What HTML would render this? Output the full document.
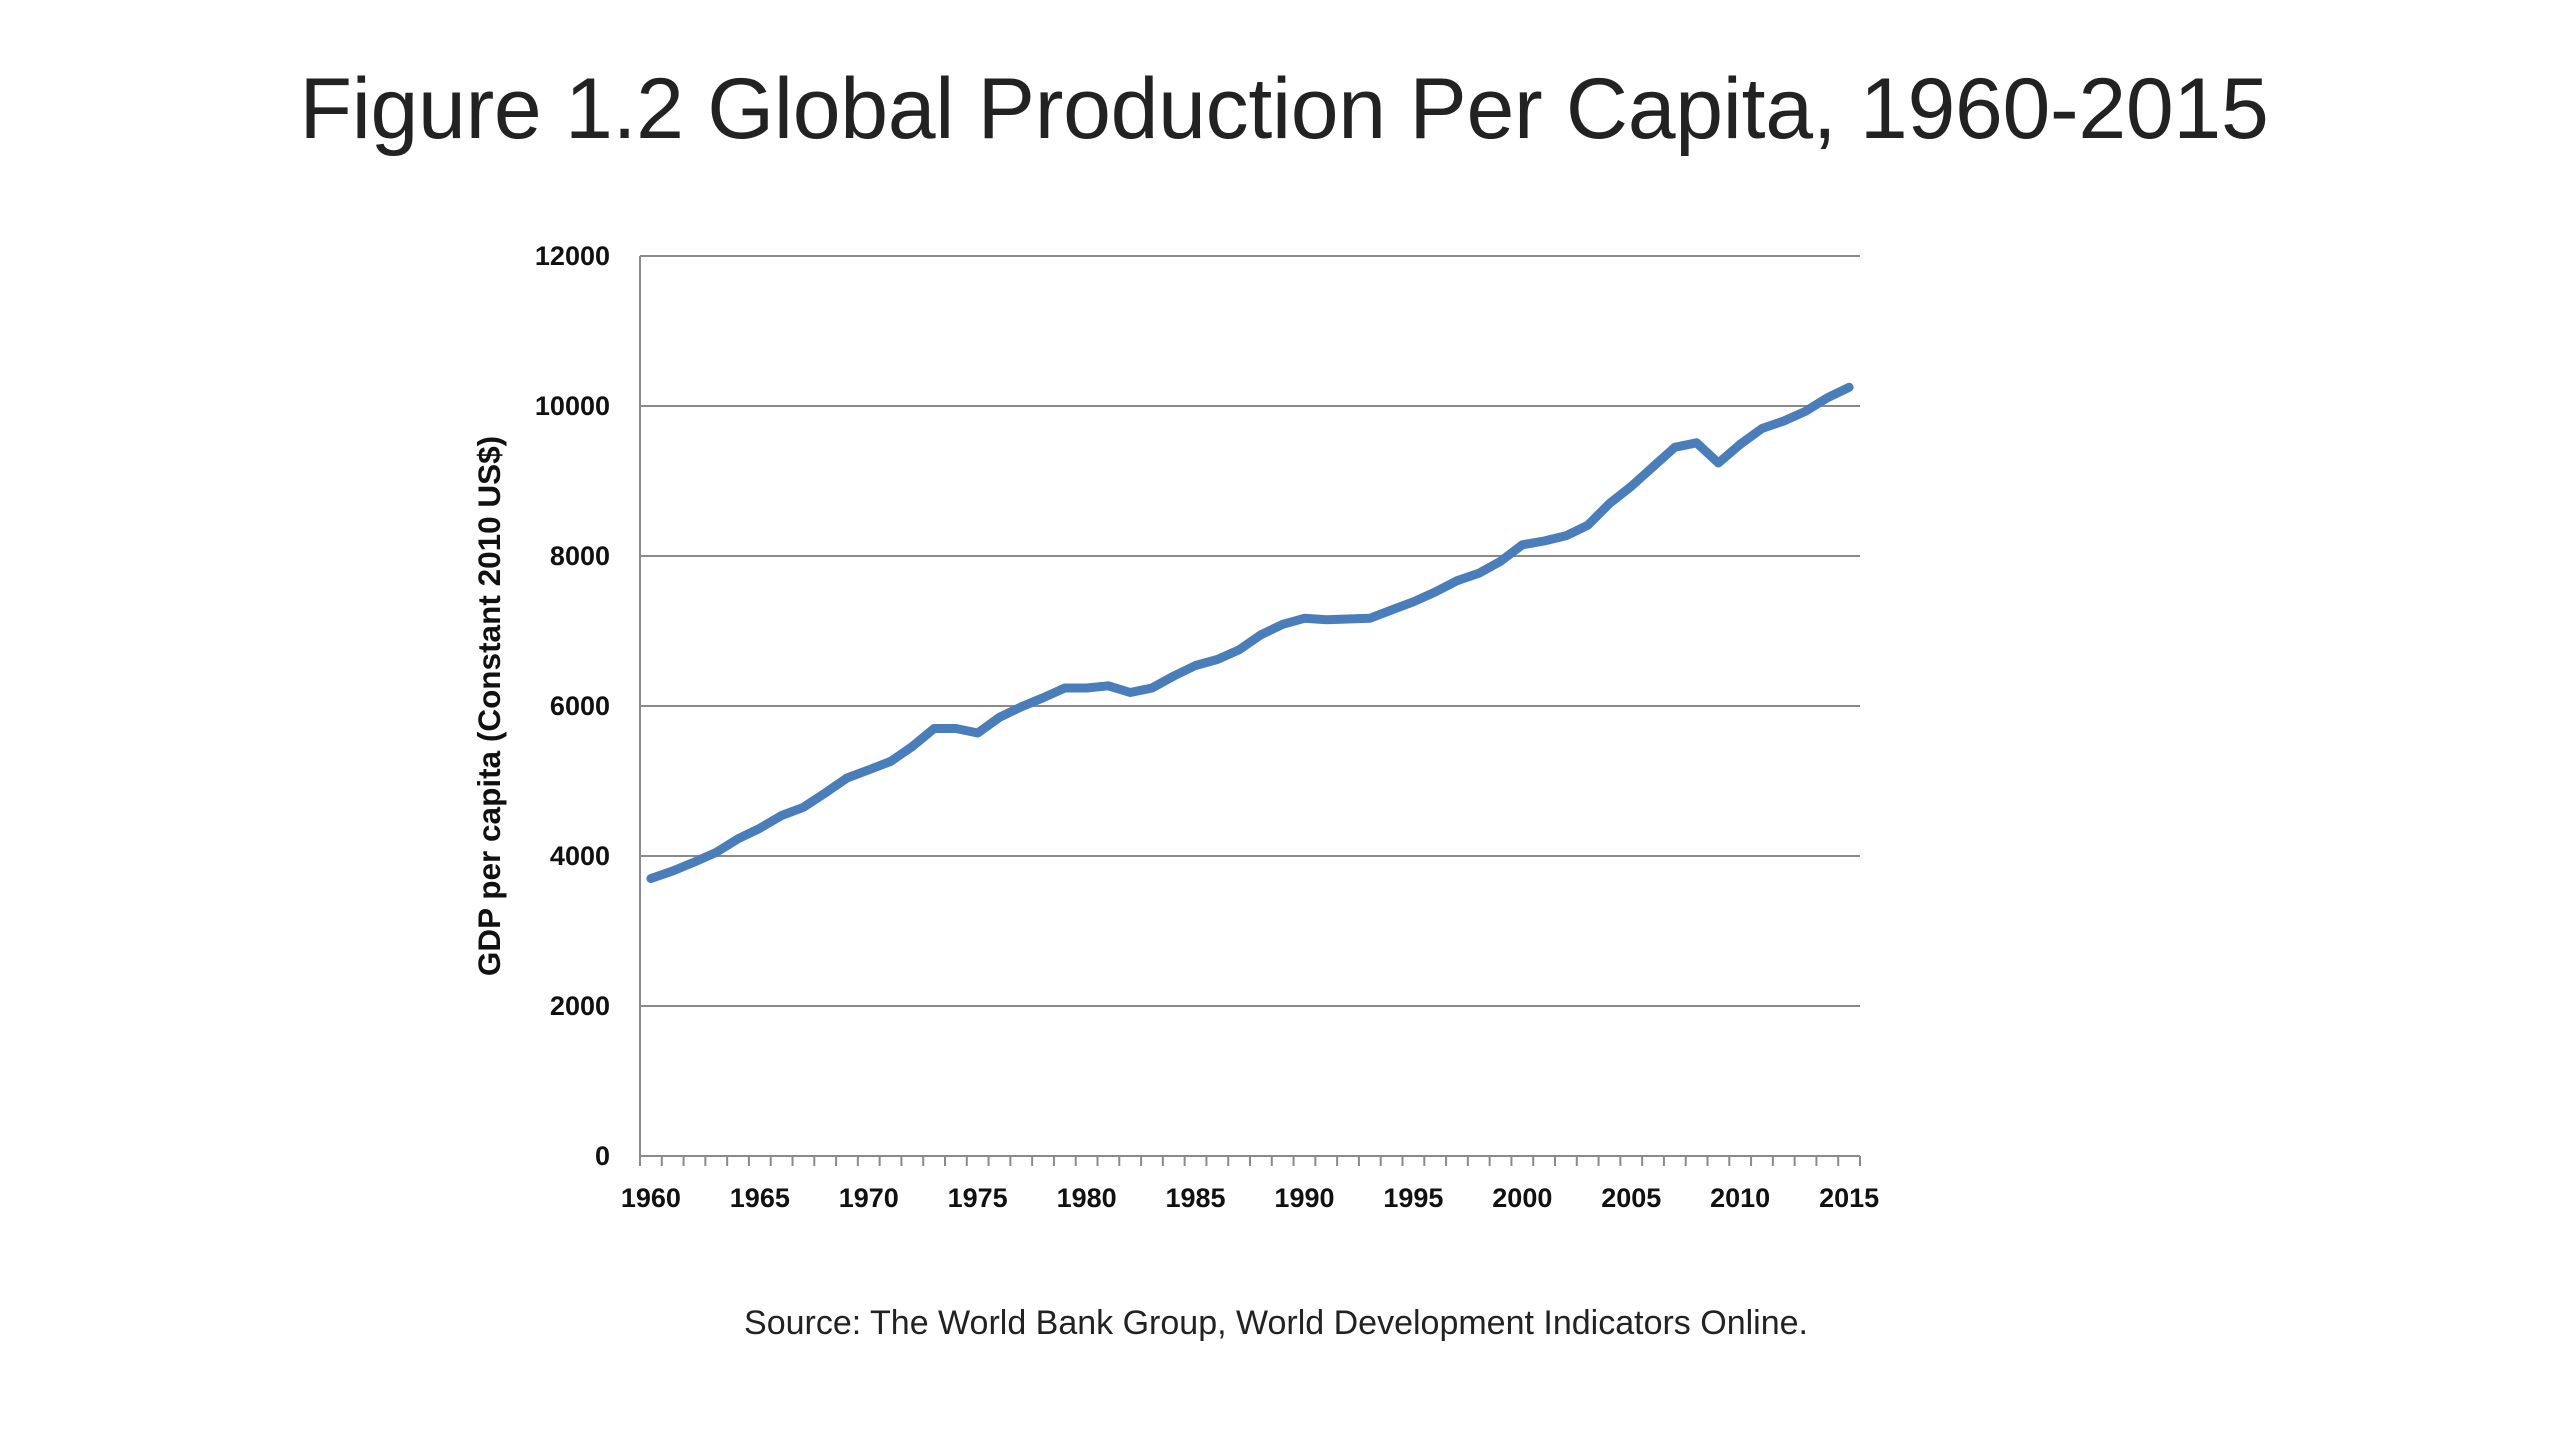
<!DOCTYPE html>
<html><head><meta charset="utf-8"><style>
body{margin:0;background:#fff;width:2560px;height:1440px;overflow:hidden;font-family:"Liberation Sans",sans-serif}
</style></head><body>
<div style="position:absolute;top:60px;left:0;width:2568px;text-align:center;font-size:86px;color:#222;letter-spacing:-0.3px">Figure 1.2 Global Production Per Capita, 1960-2015</div>
<svg id="chart" width="2560" height="1440" style="position:absolute;left:0;top:0"></svg>
<div style="position:absolute;top:1304px;left:0;width:2552px;text-align:center;font-size:34px;color:#222">Source: The World Bank Group, World Development Indicators Online.</div>
<script>
const years = [];
for (let y = 1960; y <= 2015; y++) years.push(y);
const gdp = [3700,3800,3920,4050,4230,4370,4540,4650,4840,5040,5150,5260,5460,5700,5700,5640,5850,5990,6110,6240,6240,6270,6180,6240,6400,6540,6620,6750,6950,7090,7170,7150,7160,7170,7280,7390,7520,7670,7770,7930,8150,8200,8270,8410,8700,8930,9190,9450,9510,9240,9490,9700,9800,9930,10110,10250];
const yTicks = [0,2000,4000,6000,8000,10000,12000];
const xLabels = [1960,1965,1970,1975,1980,1985,1990,1995,2000,2005,2010,2015];
const NS='http://www.w3.org/2000/svg';
const svg=document.getElementById('chart');
const L=640,R=1860,T=256,B=1156,yMax=12000;
const step=(R-L)/years.length;
const xs=i=>L+step*(i+0.5);
const ys=v=>B-(v/yMax)*(B-T);
function mk(t,a){const e=document.createElementNS(NS,t);for(const k in a)e.setAttribute(k,a[k]);svg.appendChild(e);return e;}
yTicks.forEach(v=>{
  if(v>0){const g=mk('line',{x1:L,x2:R,y1:ys(v),y2:ys(v),stroke:'#8a8a8a','stroke-width':2});
  
  }
  const t=mk('text',{x:610,y:ys(v)+9,'text-anchor':'end','font-size':27,'font-weight':'bold',fill:'#111'});
  t.textContent=v;
  
  
});
const ya=mk('line',{x1:L,x2:L,y1:T,y2:B,stroke:'#8a8a8a','stroke-width':2});


const xa=mk('line',{x1:L,x2:R,y1:B,y2:B,stroke:'#8a8a8a','stroke-width':2});


for(let i=0;i<=years.length;i++){
  const tk=mk('line',{x1:L+step*i,x2:L+step*i,y1:B,y2:B+10,stroke:'#8a8a8a','stroke-width':2});
  
  
}
xLabels.forEach(yr=>{
  const i=years.indexOf(yr);
  const t=mk('text',{x:xs(i),y:1207,'text-anchor':'middle','font-size':27,'font-weight':'bold',fill:'#111'});
  t.textContent=yr;
  
  
});
const yt=mk('text',{x:0,y:0,transform:'translate(500,706) rotate(-90)','text-anchor':'middle','font-size':31.5,'font-weight':'bold',fill:'#111'});
yt.textContent='GDP per capita (Constant 2010 US$)';


const pts=gdp.map((v,i)=>xs(i).toFixed(1)+','+ys(v).toFixed(1)).join(' ');
const pl=mk('polyline',{points:pts,fill:'none',stroke:'#4a7ebb','stroke-width':9,'stroke-linejoin':'round','stroke-linecap':'round'});


</script>
</body></html>
